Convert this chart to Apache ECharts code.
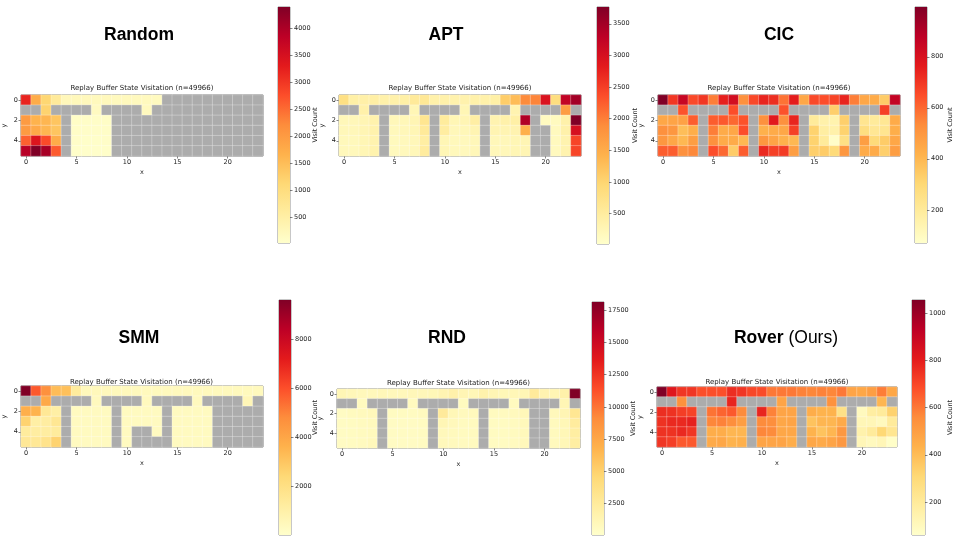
<!DOCTYPE html>
<html>
<head>
<meta charset="utf-8">
<script src="https://cdn.jsdelivr.net/npm/echarts@6/dist/echarts.min.js"></script>
<style>
  html, body { margin: 0; padding: 0; background: #fff; }
  #main { width: 955px; height: 543px; }
</style>
</head>
<body>
<div id="main"></div>
<script>
// 24 x 6 grid, y = 0 at the top
var xCats = ['0','1','2','3','4','5','6','7','8','9','10','11','12','13','14','15','16','17','18','19','20','21','22','23'];
var yCats = ['0','1','2','3','4','5'];
var chartTitle = 'Replay Buffer State Visitation (n=49966)';
var methodNames = ['Random', 'APT', 'CIC', 'SMM', 'RND', 'Rover'];

// visit counts per row (0 = never visited -> grey)
var randomCounts = [
  [3200, 1750, 1150, 650, 250, 230, 220, 210, 220, 200, 210, 190, 200, 180, 0, 0, 0, 0, 0, 0, 0, 0, 0, 0],
  [0, 0, 1200, 0, 0, 0, 0, 160, 0, 0, 0, 0, 190, 0, 0, 0, 0, 0, 0, 0, 0, 0, 0, 0],
  [2000, 1650, 1600, 1400, 0, 90, 80, 80, 90, 0, 0, 0, 0, 0, 0, 0, 0, 0, 0, 0, 0, 0, 0, 0],
  [2000, 1800, 1600, 1400, 0, 80, 70, 70, 80, 0, 0, 0, 0, 0, 0, 0, 0, 0, 0, 0, 0, 0, 0, 0],
  [2600, 3400, 2800, 1750, 0, 70, 60, 60, 70, 0, 0, 0, 0, 0, 0, 0, 0, 0, 0, 0, 0, 0, 0, 0],
  [3900, 4400, 4050, 2650, 0, 60, 50, 50, 60, 0, 0, 0, 0, 0, 0, 0, 0, 0, 0, 0, 0, 0, 0, 0]
];
var aptCounts = [
  [800, 420, 400, 430, 380, 380, 420, 550, 600, 380, 380, 350, 350, 380, 380, 420, 1100, 1300, 1900, 1950, 2950, 850, 3250, 3500],
  [0, 0, 380, 0, 0, 0, 0, 250, 0, 0, 0, 0, 260, 0, 0, 0, 0, 320, 0, 0, 0, 0, 1700, 0],
  [220, 220, 280, 350, 0, 220, 230, 280, 650, 0, 520, 260, 280, 450, 0, 320, 380, 420, 3400, 0, 150, 160, 380, 3765],
  [220, 220, 280, 350, 0, 200, 220, 260, 560, 0, 480, 220, 230, 300, 0, 300, 300, 320, 1450, 0, 0, 170, 380, 3000],
  [200, 200, 260, 330, 0, 180, 190, 220, 460, 0, 260, 200, 190, 220, 0, 220, 220, 260, 280, 0, 0, 170, 330, 2450],
  [200, 200, 260, 340, 0, 180, 190, 220, 500, 0, 260, 200, 190, 220, 0, 220, 220, 260, 280, 0, 0, 170, 330, 2450]
];
var cicCounts = [
  [995, 700, 850, 660, 700, 560, 750, 820, 520, 660, 740, 720, 580, 760, 450, 660, 650, 670, 740, 560, 450, 440, 340, 860],
  [0, 0, 640, 0, 0, 0, 0, 650, 0, 0, 0, 0, 640, 0, 0, 0, 0, 330, 0, 0, 0, 0, 680, 0],
  [450, 460, 470, 620, 0, 620, 630, 600, 640, 0, 520, 770, 520, 740, 0, 200, 160, 150, 330, 0, 230, 200, 220, 440],
  [520, 500, 380, 430, 0, 560, 440, 450, 650, 0, 420, 440, 450, 680, 0, 320, 180, 160, 320, 0, 270, 220, 230, 430],
  [500, 450, 400, 480, 0, 520, 440, 440, 400, 0, 500, 460, 420, 400, 0, 320, 200, 80, 260, 0, 480, 290, 340, 450],
  [620, 620, 520, 540, 0, 650, 600, 340, 620, 0, 730, 680, 690, 480, 0, 330, 340, 290, 500, 0, 440, 440, 330, 480]
];
var smmCounts = [
  [9600, 5800, 4700, 3300, 3200, 1300, 500, 480, 470, 460, 460, 450, 450, 450, 450, 450, 450, 450, 450, 450, 450, 450, 450, 450],
  [0, 0, 3900, 0, 0, 0, 0, 400, 0, 0, 0, 0, 400, 0, 0, 0, 0, 400, 0, 0, 0, 0, 600, 0],
  [3700, 3600, 1500, 1100, 0, 350, 350, 350, 350, 0, 350, 350, 350, 350, 0, 350, 350, 350, 350, 0, 0, 0, 0, 0],
  [2600, 1100, 1200, 1600, 0, 350, 350, 350, 350, 0, 350, 350, 350, 350, 0, 350, 350, 350, 350, 0, 0, 0, 0, 0],
  [1300, 1200, 1200, 1300, 0, 350, 350, 350, 350, 0, 350, 0, 0, 350, 0, 350, 350, 350, 350, 0, 0, 0, 0, 0],
  [1500, 1500, 1800, 2600, 0, 350, 350, 350, 350, 0, 350, 0, 0, 0, 0, 350, 350, 350, 350, 0, 0, 0, 0, 0]
];
var rndCounts = [
  [1200, 1000, 900, 900, 1000, 900, 900, 1000, 1000, 1100, 1400, 1800, 1300, 1100, 1700, 1300, 1100, 1100, 1200, 2600, 1500, 1300, 1800, 18150],
  [0, 0, 700, 0, 0, 0, 0, 700, 0, 0, 0, 0, 700, 0, 0, 0, 0, 700, 0, 0, 0, 0, 1200, 0],
  [500, 700, 800, 900, 0, 600, 600, 600, 700, 0, 2600, 1100, 800, 800, 0, 700, 700, 800, 1000, 0, 0, 900, 1300, 3000],
  [500, 600, 700, 800, 0, 500, 500, 500, 600, 0, 1200, 900, 700, 700, 0, 600, 600, 700, 900, 0, 0, 800, 1100, 2400],
  [500, 600, 700, 800, 0, 500, 500, 500, 600, 0, 900, 800, 700, 700, 0, 600, 600, 700, 900, 0, 0, 800, 1100, 2200],
  [500, 600, 700, 900, 0, 500, 500, 500, 600, 0, 900, 800, 700, 700, 0, 600, 600, 700, 900, 0, 0, 800, 1100, 2200]
];
var roverCounts = [
  [1056, 820, 740, 740, 680, 680, 680, 760, 740, 700, 690, 600, 600, 600, 580, 570, 580, 570, 600, 480, 470, 500, 590, 470],
  [0, 0, 540, 0, 0, 0, 0, 780, 0, 0, 0, 0, 480, 0, 0, 0, 0, 540, 0, 0, 0, 0, 420, 0],
  [760, 750, 720, 710, 0, 610, 640, 660, 560, 0, 780, 580, 480, 480, 0, 450, 430, 430, 260, 0, 100, 180, 200, 330],
  [750, 770, 770, 790, 0, 570, 580, 550, 500, 0, 560, 550, 470, 480, 0, 380, 420, 420, 460, 0, 120, 120, 100, 200],
  [750, 750, 770, 740, 0, 450, 450, 420, 420, 0, 570, 560, 470, 470, 0, 430, 380, 420, 520, 0, 150, 200, 310, 230],
  [740, 720, 660, 660, 0, 460, 470, 430, 440, 0, 480, 480, 480, 450, 0, 470, 460, 480, 520, 0, 120, 100, 120, 70]
];
var allCounts = [randomCounts, aptCounts, cicCounts, smmCounts, rndCounts, roverCounts];

// colour scale limits and colourbar ticks
var colorMin = [20, 20, 70, 30, 40, 60];
var colorMax = [4400, 3765, 995, 9600, 18150, 1056];
var cbTicks = [
  [500, 1000, 1500, 2000, 2500, 3000, 3500, 4000],
  [500, 1000, 1500, 2000, 2500, 3000, 3500],
  [200, 400, 600, 800],
  [2000, 4000, 6000, 8000],
  [2500, 5000, 7500, 10000, 12500, 15000, 17500],
  [200, 400, 600, 800, 1000]
];

// layout (pixels): heatmap grid, colourbar, big title centre, small title y, colourbar label gap
var panels = [
  { grid: [21, 95, 242, 61],  bar: [278, 7, 12, 236],   head: [139, 35],  sub: 88,  gap: 22 },
  { grid: [339, 95, 242, 61], bar: [597, 7, 12, 237],   head: [446, 35],  sub: 88,  gap: 23 },
  { grid: [658, 95, 242, 61], bar: [915, 7, 12, 236],   head: [779, 35],  sub: 88,  gap: 20 },
  { grid: [20, 386, 243, 61], bar: [279, 300, 12, 235], head: [139, 338], sub: 382, gap: 21 },
  { grid: [337, 389, 243, 59],bar: [592, 302, 12, 233], head: [447, 338], sub: 383, gap: 26 },
  { grid: [657, 387, 240, 60],bar: [912, 300, 13, 235], head: [786, 338], sub: 382, gap: 22 }
];

var ylorrd = ['#ffffcc', '#ffeda0', '#fed976', '#feb24c', '#fd8d3c', '#fc4e2a', '#e31a1c', '#bd0026', '#800026'];
var FONT = 'DejaVu Sans';
var TXT = '#222';

var grids = [], xAxes = [], yAxes = [], series = [], visualMaps = [], titles = [];

panels.forEach(function (p, i) {
  var g = p.grid, b = p.bar;
  // heatmap grid
  grids.push({ left: g[0], top: g[1], width: g[2], height: g[3], show: true, borderColor: '#333', borderWidth: 0.8, backgroundColor: 'transparent' });
  xAxes.push({
    type: 'category', gridIndex: 2 * i, data: xCats, position: 'bottom',
    name: 'x', nameLocation: 'middle', nameGap: 13, nameMoveOverlap: false,
    nameTextStyle: { fontFamily: FONT, fontSize: 6.5, color: TXT },
    axisLine: { show: false },
    axisTick: { show: true, alignWithLabel: true, length: 2.5, lineStyle: { color: '#333', width: 0.6 },
      interval: function (idx) { return idx % 5 === 0; } },
    axisLabel: { fontFamily: FONT, fontSize: 6.5, color: TXT, margin: 3,
      interval: function (idx) { return idx % 5 === 0; } },
    splitLine: { show: false }
  });
  yAxes.push({
    type: 'category', gridIndex: 2 * i, data: yCats, inverse: true,
    name: 'y', nameLocation: 'middle', nameGap: 13, nameRotate: 90, nameMoveOverlap: false,
    nameTextStyle: { fontFamily: FONT, fontSize: 6.5, color: TXT },
    axisLine: { show: false },
    axisTick: { show: true, alignWithLabel: true, length: 2.5, lineStyle: { color: '#333', width: 0.6 },
      interval: function (idx) { return idx % 2 === 0; } },
    axisLabel: { fontFamily: FONT, fontSize: 6.5, color: TXT, margin: 3,
      interval: function (idx) { return idx % 2 === 0; } },
    splitLine: { show: false }
  });
  // colourbar grid
  grids.push({ left: b[0], top: b[1], width: b[2], height: b[3], show: true, borderColor: '#444', borderWidth: 0.6, backgroundColor: 'transparent' });
  xAxes.push({ type: 'category', gridIndex: 2 * i + 1, data: ['cb'], show: false });
  yAxes.push({
    type: 'value', gridIndex: 2 * i + 1, position: 'right',
    min: colorMin[i], max: colorMax[i],
    name: 'Visit Count', nameLocation: 'middle', nameGap: p.gap, nameRotate: 90, nameMoveOverlap: false,
    nameTextStyle: { fontFamily: FONT, fontSize: 6.5, color: TXT },
    axisLine: { show: false },
    axisTick: { show: true, length: 2.5, customValues: cbTicks[i], lineStyle: { color: '#333', width: 0.6 } },
    axisLabel: { fontFamily: FONT, fontSize: 6.5, color: TXT, margin: 4, customValues: cbTicks[i],
      formatter: function (v) { return String(v); } },
    splitLine: { show: false }
  });

  var data = [];
  allCounts[i].forEach(function (row, r) {
    row.forEach(function (v, c) { data.push([c, r, v]); });
  });
  series.push({
    type: 'heatmap', xAxisIndex: 2 * i, yAxisIndex: 2 * i, data: data,
    itemStyle: { borderColor: 'rgba(255,255,255,0.55)', borderWidth: 0.5 },
    emphasis: { disabled: true }, progressive: 0, silent: true
  });
  visualMaps.push({
    type: 'continuous', show: false, seriesIndex: series.length - 1, dimension: 2,
    min: colorMin[i], max: colorMax[i], unboundedRange: false,
    inRange: { color: ylorrd }, outOfRange: { color: '#acacac' }
  });
  // colourbar as a stacked bar: invisible base up to vmin, gradient from vmin to vmax
  series.push({
    type: 'bar', xAxisIndex: 2 * i + 1, yAxisIndex: 2 * i + 1, stack: 'cb' + i,
    data: [colorMin[i]], barWidth: '100%', silent: true,
    itemStyle: { color: 'transparent' }
  });
  series.push({
    type: 'bar', xAxisIndex: 2 * i + 1, yAxisIndex: 2 * i + 1, stack: 'cb' + i,
    data: [colorMax[i] - colorMin[i]], barWidth: '100%', silent: true,
    itemStyle: {
      color: new echarts.graphic.LinearGradient(0, 0, 0, 1,
        ylorrd.slice().reverse().map(function (c, k) { return { offset: k / (ylorrd.length - 1), color: c }; }))
    }
  });

  titles.push({
    text: chartTitle, left: g[0] + g[2] / 2, top: p.sub, padding: 0,
    textAlign: 'center', textVerticalAlign: 'middle',
    textStyle: { fontFamily: FONT, fontSize: 7, fontWeight: 'normal', color: TXT }
  });
  titles.push({
    text: i === 5 ? '{b|' + methodNames[i] + '}{n| (Ours)}' : methodNames[i],
    left: p.head[0], top: p.head[1], padding: 0,
    textAlign: 'center', textVerticalAlign: 'middle',
    textStyle: {
      fontFamily: 'Liberation Sans', fontSize: 17.5, fontWeight: 'bold', color: '#000',
      rich: {
        b: { fontFamily: 'Liberation Sans', fontSize: 17.5, fontWeight: 'bold', color: '#000' },
        n: { fontFamily: 'Liberation Sans', fontSize: 17.5, fontWeight: 'normal', color: '#000' }
      }
    }
  });
});

var chart = echarts.init(document.getElementById('main'), null, { renderer: 'canvas' });
chart.setOption({
  animation: false,
  backgroundColor: '#fff',
  title: titles,
  grid: grids,
  xAxis: xAxes,
  yAxis: yAxes,
  visualMap: visualMaps,
  series: series
});
</script>
</body>
</html>
